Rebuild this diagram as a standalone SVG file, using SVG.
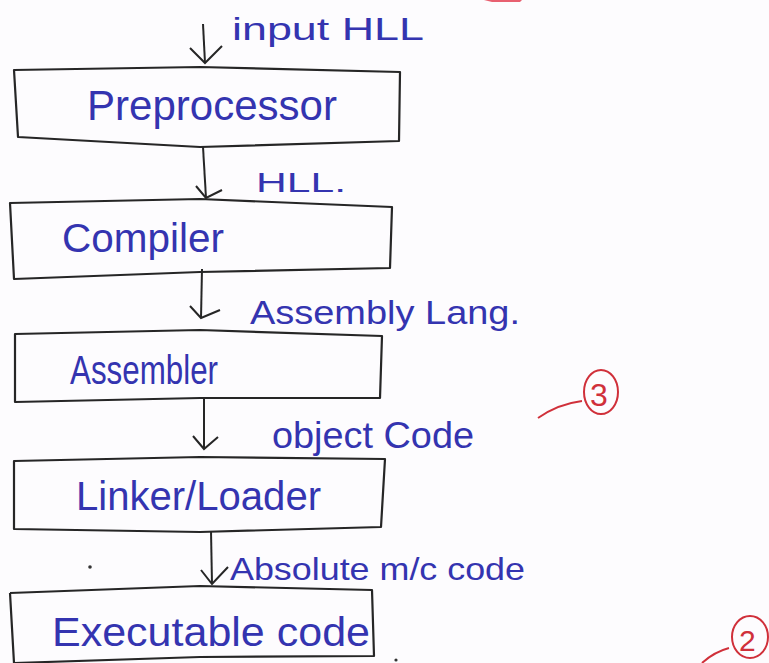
<svg xmlns="http://www.w3.org/2000/svg" width="769" height="663" viewBox="0 0 769 663">
<style>
.box{fill:none;stroke:#262626;stroke-width:2.2;stroke-linejoin:round}
.con{fill:none;stroke:#262626;stroke-width:2}
.lbl{font-family:"Liberation Sans",Arial,sans-serif;fill:#3434b0}
.red{fill:none;stroke:#d0303a;stroke-width:2}
.redt{font-family:"Liberation Sans",Arial,sans-serif;fill:#d0303a}
</style>
<rect width="769" height="663" fill="#fdfcfe"/>
<g id="connectors">
<path class="con" d="M203 24 L205 63"/>
<polyline class="con" points="190,48 205,63 222,46"/>
<path class="con" d="M203 147 L206 198"/>
<polyline class="con" points="196,186 206,198 222,190"/>
<path class="con" d="M202 269 L201 318"/>
<polyline class="con" points="190,306 201,318 220,310"/>
<path class="con" d="M204 398 L204 449"/>
<polyline class="con" points="193,436 204,449 218,437"/>
<path class="con" d="M211 531 L212 584"/>
<polyline class="con" points="201,570 212,584 228,567"/>
</g>
<g id="n0"><text class="lbl" x="232" y="40" font-size="32" textLength="192" lengthAdjust="spacingAndGlyphs">input HLL</text></g>
<g id="n1">
<path class="box" d="M14 70 L200 67 L400 72 L399 141 L200 147 L18 137 Z"/>
<text class="lbl" x="87" y="120" font-size="42" textLength="250" lengthAdjust="spacingAndGlyphs">Preprocessor</text>
</g>
<g id="e1"><text class="lbl" x="256" y="192" font-size="28" textLength="90" lengthAdjust="spacingAndGlyphs">HLL.</text></g>
<g id="n2">
<path class="box" d="M10 203 L200 199 L392 207 L390 268 L200 272 L14 279 Z"/>
<text class="lbl" x="62" y="252" font-size="40" textLength="162" lengthAdjust="spacingAndGlyphs">Compiler</text>
</g>
<g id="e2"><text class="lbl" x="250" y="324" font-size="34" textLength="270" lengthAdjust="spacingAndGlyphs">Assembly Lang.</text></g>
<g id="n3">
<path class="box" d="M15 334 L200 330 L382 336 L380 398 L200 398 L15 402 Z"/>
<text class="lbl" x="70" y="384" font-size="40" textLength="148" lengthAdjust="spacingAndGlyphs">Assembler</text>
</g>
<g id="e3"><text class="lbl" x="272" y="448" font-size="36" textLength="202" lengthAdjust="spacingAndGlyphs">object Code</text></g>
<g id="n4">
<path class="box" d="M14 461 L200 457 L385 459 L381 527 L200 532 L14 529 Z"/>
<text class="lbl" x="76" y="510" font-size="40" textLength="245" lengthAdjust="spacingAndGlyphs">Linker/Loader</text>
</g>
<g id="e4"><text class="lbl" x="230" y="580" font-size="32" textLength="295" lengthAdjust="spacingAndGlyphs">Absolute m/c code</text></g>
<g id="n5">
<path class="box" d="M10 593 L200 586 L372 590 L374 656 L200 657 L14 663 L10 593"/>
<text class="lbl" x="52" y="646" font-size="40" textLength="318" lengthAdjust="spacingAndGlyphs">Executable code</text>
</g>
<circle cx="90" cy="567" r="1.8" fill="#333"/>
<circle cx="396" cy="660" r="1.6" fill="#333"/>
<g id="mark3">
<path class="red" d="M538 418 Q558 404 582 401"/>
<ellipse class="red" cx="601" cy="392" rx="17" ry="22"/>
<text class="redt" x="590" y="406" font-size="32">3</text>
</g>
<g id="mark2">
<path class="red" d="M702 663 Q714 652 729 648"/>
<ellipse class="red" cx="750" cy="637" rx="18" ry="21"/>
<text class="redt" x="739" y="651" font-size="30">2</text>
</g>
<path d="M484 0 L522 0 L520 2 L492 2 Z" fill="#e86070"/>
</svg>
